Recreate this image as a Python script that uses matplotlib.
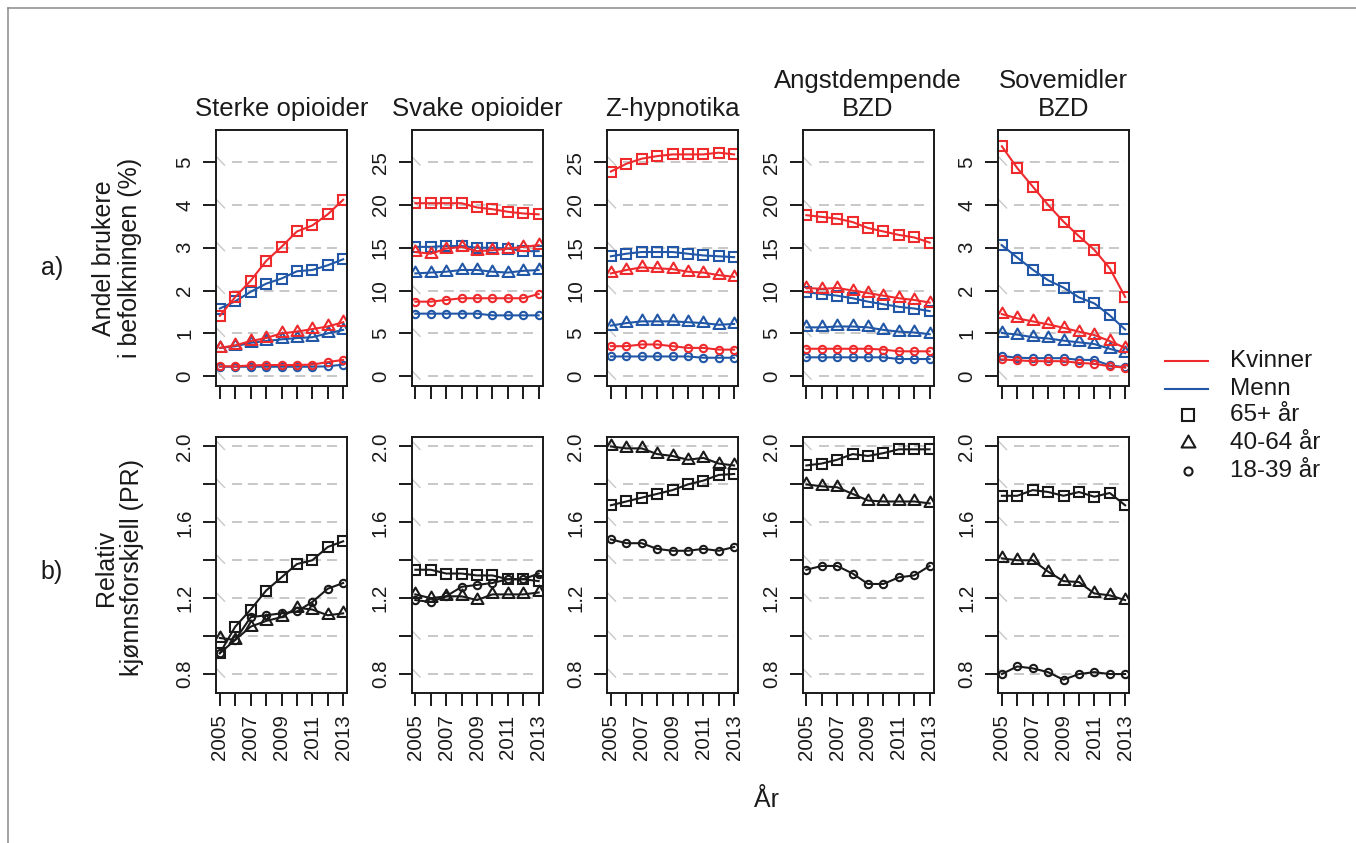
import matplotlib
matplotlib.use('Agg')
import matplotlib.pyplot as plt
from matplotlib.path import Path

plt.rcParams['font.family'] = ['Liberation Sans', 'DejaVu Sans']
plt.rcParams['lines.scale_dashes'] = False

years = list(range(2005, 2014))
titles = ['Sterke opioider', 'Svake opioider', 'Z-hypnotika', 'Angstdempende\nBZD', 'Sovemidler\nBZD']

# a) andel brukere (%), kvinner (k) / menn (m), aldersgrupper 65+, 40-64, 18-39
sterke_k65 = [1.41, 1.85, 2.23, 2.69, 3.02, 3.38, 3.52, 3.78, 4.12]
sterke_m65 = [1.58, 1.75, 1.97, 2.16, 2.28, 2.45, 2.48, 2.59, 2.73]
sterke_k40 = [0.66, 0.72, 0.82, 0.89, 1.00, 1.04, 1.10, 1.16, 1.26]
sterke_m40 = [0.66, 0.70, 0.78, 0.82, 0.86, 0.89, 0.91, 1.00, 1.08]
sterke_k18 = [0.23, 0.23, 0.25, 0.26, 0.26, 0.26, 0.27, 0.33, 0.38]
sterke_m18 = [0.22, 0.22, 0.22, 0.22, 0.22, 0.22, 0.22, 0.23, 0.27]

svake_k65 = [20.2, 20.2, 20.2, 20.2, 19.7, 19.5, 19.2, 19.0, 18.9]
svake_m65 = [15.1, 15.1, 15.2, 15.2, 15.0, 15.0, 14.9, 14.6, 14.6]
svake_k40 = [14.5, 14.3, 14.9, 15.1, 14.6, 14.7, 14.9, 15.1, 15.3]
svake_m40 = [12.0, 12.1, 12.2, 12.4, 12.4, 12.2, 12.1, 12.3, 12.4]
svake_k18 = [8.7, 8.7, 8.9, 9.1, 9.1, 9.1, 9.1, 9.1, 9.6]
svake_m18 = [7.3, 7.3, 7.3, 7.3, 7.3, 7.1, 7.1, 7.1, 7.1]

zhyp_k65 = [23.9, 24.8, 25.4, 25.7, 25.9, 25.9, 25.9, 26.1, 25.9]
zhyp_m65 = [14.0, 14.3, 14.5, 14.5, 14.5, 14.3, 14.1, 14.0, 13.9]
zhyp_k40 = [12.0, 12.4, 12.7, 12.6, 12.5, 12.2, 12.1, 11.8, 11.6]
zhyp_m40 = [5.9, 6.2, 6.4, 6.4, 6.4, 6.3, 6.2, 6.0, 6.1]
zhyp_k18 = [3.5, 3.5, 3.7, 3.7, 3.5, 3.3, 3.3, 3.1, 3.1]
zhyp_m18 = [2.3, 2.3, 2.3, 2.3, 2.3, 2.3, 2.15, 2.15, 2.15]

angst_k65 = [18.8, 18.6, 18.4, 18.0, 17.3, 16.9, 16.5, 16.2, 15.6]
angst_m65 = [9.8, 9.6, 9.4, 9.1, 8.7, 8.4, 8.1, 7.9, 7.6]
angst_k40 = [10.3, 10.2, 10.3, 10.0, 9.7, 9.4, 9.1, 8.9, 8.6]
angst_m40 = [5.7, 5.7, 5.8, 5.8, 5.7, 5.4, 5.2, 5.1, 4.9]
angst_k18 = [3.2, 3.2, 3.2, 3.2, 3.2, 3.1, 2.9, 2.9, 2.9]
angst_m18 = [2.2, 2.2, 2.2, 2.2, 2.2, 2.2, 2.0, 2.0, 2.0]

sove_k65 = [5.37, 4.86, 4.43, 4.00, 3.61, 3.27, 2.95, 2.52, 1.85]
sove_m65 = [3.06, 2.77, 2.49, 2.24, 2.07, 1.84, 1.70, 1.42, 1.09]
sove_k40 = [1.45, 1.35, 1.28, 1.21, 1.13, 1.04, 0.96, 0.82, 0.66]
sove_m40 = [1.01, 0.97, 0.91, 0.88, 0.83, 0.79, 0.75, 0.64, 0.54]
sove_k18 = [0.39, 0.37, 0.35, 0.35, 0.35, 0.31, 0.29, 0.23, 0.20]
sove_m18 = [0.47, 0.43, 0.42, 0.42, 0.42, 0.38, 0.38, 0.25, 0.21]

# b) relativ kjønnsforskjell (PR)
pr_sterke_65 = [0.91, 1.05, 1.14, 1.24, 1.31, 1.38, 1.40, 1.47, 1.50]
pr_sterke_40 = [0.99, 0.98, 1.05, 1.08, 1.10, 1.15, 1.14, 1.11, 1.12]
pr_sterke_18 = [0.91, 0.98, 1.10, 1.11, 1.12, 1.13, 1.18, 1.25, 1.28]

pr_svake_65 = [1.35, 1.35, 1.33, 1.33, 1.32, 1.32, 1.30, 1.30, 1.29]
pr_svake_40 = [1.22, 1.20, 1.21, 1.21, 1.19, 1.22, 1.22, 1.22, 1.23]
pr_svake_18 = [1.19, 1.18, 1.21, 1.26, 1.27, 1.28, 1.30, 1.30, 1.33]

pr_zhyp_65 = [1.69, 1.71, 1.73, 1.75, 1.77, 1.80, 1.82, 1.85, 1.855]
pr_zhyp_40 = [2.00, 1.99, 1.99, 1.96, 1.95, 1.93, 1.94, 1.91, 1.90]
pr_zhyp_18 = [1.51, 1.49, 1.49, 1.46, 1.45, 1.45, 1.46, 1.45, 1.47]

pr_angst_65 = [1.90, 1.91, 1.93, 1.96, 1.95, 1.965, 1.985, 1.985, 1.985]
pr_angst_40 = [1.80, 1.79, 1.785, 1.75, 1.715, 1.71, 1.71, 1.71, 1.70]
pr_angst_18 = [1.35, 1.37, 1.37, 1.33, 1.275, 1.275, 1.31, 1.32, 1.37]

pr_sove_65 = [1.74, 1.74, 1.77, 1.76, 1.74, 1.76, 1.735, 1.755, 1.69]
pr_sove_40 = [1.41, 1.40, 1.40, 1.34, 1.29, 1.285, 1.225, 1.215, 1.19]
pr_sove_18 = [0.80, 0.84, 0.83, 0.81, 0.77, 0.80, 0.81, 0.80, 0.80]

top_data = [
    (sterke_k65, sterke_m65, sterke_k40, sterke_m40, sterke_k18, sterke_m18),
    (svake_k65, svake_m65, svake_k40, svake_m40, svake_k18, svake_m18),
    (zhyp_k65, zhyp_m65, zhyp_k40, zhyp_m40, zhyp_k18, zhyp_m18),
    (angst_k65, angst_m65, angst_k40, angst_m40, angst_k18, angst_m18),
    (sove_k65, sove_m65, sove_k40, sove_m40, sove_k18, sove_m18),
]
bottom_data = [
    (pr_sterke_65, pr_sterke_40, pr_sterke_18),
    (pr_svake_65, pr_svake_40, pr_svake_18),
    (pr_zhyp_65, pr_zhyp_40, pr_zhyp_18),
    (pr_angst_65, pr_angst_40, pr_angst_18),
    (pr_sove_65, pr_sove_40, pr_sove_18),
]

W, H = 1356, 843
fig = plt.figure(figsize=(W / 100, H / 100), dpi=100)

red = '#EE2A2D'
blue = '#2157A6'
dark = '#1a1a1a'
gridc = '#C8C8C8'

tri = Path([(0, 1), (-0.866, -0.5), (0.866, -0.5), (0, 1)],
           [Path.MOVETO, Path.LINETO, Path.LINETO, Path.CLOSEPOLY])
markers = [('s', 7.6), (tri, 10.0), ('o', 5.3)]
leg_markers = [('s', 8.2), (tri, 11.5), ('o', 5.8)]

# overlay for frame and legend, in pixel coordinates
lax = fig.add_axes([0, 0, 1, 1])
lax.set_xlim(0, W)
lax.set_ylim(H, 0)
lax.axis('off')
lax.plot([8, W], [8, 8], color='#8a8a8a', lw=1.1)
lax.plot([8, 8], [8, H], color='#8a8a8a', lw=1.1)

xlim = (2004.75, 2013.25)
panel_w, panel_h = 131, 256
lefts = [216 + 195.5 * i for i in range(5)]
top_y, bot_y = 130, 437


def px_axes(left, top):
    return fig.add_axes([left / W, 1 - (top + panel_h) / H, panel_w / W, panel_h / H])


def style(ax, ylim, yticks, ylabels, xlabels):
    ax.set_xlim(*xlim)
    ax.set_ylim(*ylim)
    ax.set_xticks(years)
    if xlabels:
        ax.set_xticklabels([str(y) if y % 2 == 1 else '' for y in years],
                           rotation=90, ha='center', va='top')
    else:
        ax.set_xticklabels([])
    ax.set_yticks(yticks)
    ax.set_yticklabels(ylabels, rotation=90, va='center')
    ax.tick_params(direction='out', length=9.5, width=1.4, color=dark,
                   labelsize=14.8, labelcolor=dark)
    ax.tick_params(axis='y', pad=6)
    ax.tick_params(axis='x', pad=6)
    for s in ax.spines.values():
        s.set_linewidth(1.4)
        s.set_color(dark)
    # dashed grid with the odd slanted first dash
    xpu = panel_w / (xlim[1] - xlim[0])
    ypu = panel_h / (ylim[1] - ylim[0])
    for t in yticks:
        ax.plot([xlim[0] + 16 / xpu, 2013], [t, t], color=gridc, lw=1.4,
                dashes=(7.2, 4.2), zorder=0)
        ax.plot([xlim[0] + 0.8 / xpu, xlim[0] + 8.5 / xpu],
                [t + 5 / ypu, t - 3 / ypu], color=gridc, lw=1.0, zorder=0)


for i in range(5):
    ax = px_axes(lefts[i], top_y)
    k65, m65, k40, m40, k18, m18 = top_data[i]
    groups = [(m65, k65), (m40, k40), (m18, k18)]
    for (mvals, kvals), (mk, ms) in zip(groups, markers):
        for vals, c in [(mvals, blue), (kvals, red)]:
            ax.plot(years, vals, color=c, lw=1.5, marker=mk, ms=ms,
                    mfc='none', mec=c, mew=1.5)
    if i in (0, 4):
        style(ax, (-0.23, 5.75), [0, 1, 2, 3, 4, 5], ['0', '1', '2', '3', '4', '5'], False)
    else:
        style(ax, (-1.15, 28.75), [0, 5, 10, 15, 20, 25],
              ['0', '5', '10', '15', '20', '25'], False)
    fig.text((lefts[i] + panel_w / 2) / W, 1 - 121 / H, titles[i], ha='center',
             va='bottom', fontsize=18.5, color=dark, linespacing=1.2)

    bx = px_axes(lefts[i], bot_y)
    for vals, (mk, ms) in zip(bottom_data[i], markers):
        bx.plot(years, vals, color=dark, lw=1.5, marker=mk, ms=ms,
                mfc='none', mec=dark, mew=1.5)
    style(bx, (0.7, 2.05), [0.8, 1.0, 1.2, 1.4, 1.6, 1.8, 2.0],
          ['0.8', '', '1.2', '', '1.6', '', '2.0'], True)

fig.text(117 / W, 1 - 258 / H, 'Andel brukere\ni befolkningen (%)', rotation=90,
         ha='center', va='center', fontsize=18, color=dark, linespacing=1.1)
fig.text(119 / W, 1 - 568 / H, 'Relativ\nkjønnsforskjell (PR)', rotation=90,
         ha='center', va='center', fontsize=18, color=dark, linespacing=1.1)
fig.text(52 / W, 1 - 268 / H, 'a)', ha='center', va='center', fontsize=18, color=dark)
fig.text(52 / W, 1 - 572 / H, 'b)', ha='center', va='center', fontsize=18, color=dark)
fig.text(766 / W, 1 - 800 / H, 'År', ha='center', va='center', fontsize=18, color=dark)

# legend
leg_labels = ['Kvinner', 'Menn', '65+ år', '40-64 år', '18-39 år']
leg_y = [361, 389, 415, 443, 471]
lax.plot([1165, 1208], [leg_y[0], leg_y[0]], color=red, lw=1.5)
lax.plot([1165, 1208], [leg_y[1], leg_y[1]], color=blue, lw=1.5)
for (mk, ms), y in zip(leg_markers, leg_y[2:]):
    lax.plot([1188], [y], marker=mk, ms=ms, mfc='none', mec=dark, mew=1.5, ls='none')
for lab, y in zip(leg_labels, leg_y):
    lax.text(1230, y, lab, ha='left', va='center', fontsize=17.5, color=dark)

fig.savefig('out.png', dpi=100)
